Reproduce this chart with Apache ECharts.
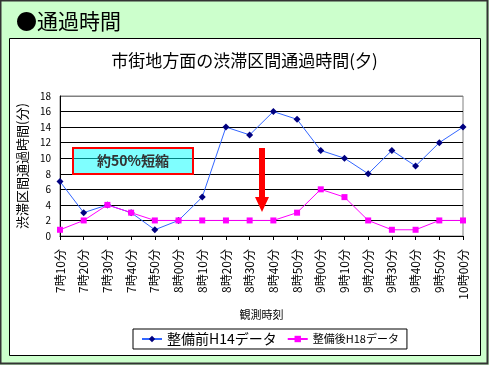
<!DOCTYPE html>
<html><head><meta charset="utf-8">
<script src="https://cdn.jsdelivr.net/npm/echarts@6/dist/echarts.min.js"></script>
<style>html,body{margin:0;padding:0;background:#CCFFCC;}#c{width:489px;height:365px;}</style>
</head><body><div id="c"></div>
<script>
const categories = ['7時10分','7時20分','7時30分','7時40分','7時50分','8時00分','8時10分','8時20分','8時30分','8時40分','8時50分','9時00分','9時10分','9時20分','9時30分','9時40分','9時50分','10時00分'];
const beforeH14 = [7,3,4,3,0.8,2,5,14,13,16,15,11,10,8,11,9,12,14];
const afterH18 = [0.8,2,4,3,2,2,2,2,2,2,3,6,5,2,0.8,0.8,2,2];
const yTicks = [0,2,4,6,8,10,12,14,16,18];
const nameBefore = '整備前H14データ';
const nameAfter = '整備後H18データ';
const FONT = '"Noto Sans CJK JP", sans-serif';

const chart = echarts.init(document.getElementById('c'), null, {renderer:'canvas'});
chart.setOption({
  backgroundColor: '#CCFFCC',
  animation: false,
  textStyle: {fontFamily: FONT},
  title: [
    {text: '●通過時間', left: 11, top: 6, textStyle: {fontSize: 21, fontWeight: 'normal', color: '#000', fontFamily: FONT}},
    {text: '市街地方面の渋滞区間通過時間(夕)', left: 'center', top: 47, textStyle: {fontSize: 17, fontWeight: 'normal', color: '#000', fontFamily: FONT}}
  ],
  graphic: [
    {type: 'rect', z: -20, shape: {x: 0.5, y: 0.5, width: 487, height: 363}, style: {fill: '#CCFFCC', stroke: '#333', lineWidth: 2}},
    {type: 'rect', z: -10, shape: {x: 9.5, y: 38.5, width: 471, height: 317}, style: {fill: '#fff', stroke: '#000', lineWidth: 1}},
    {type: 'rect', z: 100, shape: {x: 73, y: 148, width: 120, height: 26}, style: {fill: 'rgba(0,255,255,0.5)', stroke: '#FF0000', lineWidth: 2}},
    {type: 'text', z: 101, x: 133, y: 161, style: {text: '約50%短縮', fill: '#333', font: 'bold 14px ' + FONT, textAlign: 'center', textVerticalAlign: 'middle'}},
    {type: 'polygon', z: 100, shape: {points: [[259,148],[265,148],[265,197],[269,197],[262,212],[255,197],[259,197]]}, style: {fill: '#FF0000'}}
  ],
  legend: {
    left: 133, top: 329,
    padding: [3, 8, 3, 8],
    itemGap: 10,
    itemWidth: 20, itemHeight: 8,
    borderColor: '#000', borderWidth: 1,
    backgroundColor: '#fff',
    data: [nameBefore, nameAfter],
    formatter: function (n) { return n === nameBefore ? '{a|' + n + '}' : '{b|' + n + '}'; },
    textStyle: {
      color: '#000',
      rich: {
        a: {fontSize: 14, fontFamily: FONT, color: '#000'},
        b: {fontSize: 11, fontFamily: FONT, color: '#000'}
      }
    }
  },
  grid: {left: 60, right: 26, top: 96, bottom: 129, show: true, borderColor: '#808080', borderWidth: 1, backgroundColor: 'transparent'},
  xAxis: {
    type: 'category',
    data: categories,
    boundaryGap: false,
    name: '観測時刻',
    nameLocation: 'middle',
    nameGap: 73,
    nameTextStyle: {fontSize: 11, color: '#000', fontFamily: FONT},
    axisLine: {lineStyle: {color: '#000', width: 1}},
    axisTick: {show: true, length: 4, lineStyle: {color: '#000'}},
    axisLabel: {rotate: 90, fontSize: 12, color: '#000', margin: 13, interval: 0, fontFamily: FONT},
    splitLine: {show: false}
  },
  yAxis: {
    type: 'value',
    min: yTicks[0], max: yTicks[yTicks.length - 1], interval: 2,
    name: '渋滞区間通過時間(分)',
    nameLocation: 'middle',
    nameGap: 24,
    nameRotate: 90,
    nameTextStyle: {fontSize: 13, color: '#000', fontFamily: FONT},
    axisLine: {show: true, lineStyle: {color: '#000', width: 1}},
    axisTick: {show: false},
    axisLabel: {fontSize: 10, color: '#000', margin: 9, fontFamily: FONT},
    splitLine: {show: true, lineStyle: {color: ['#000','#000','#000','#000','#000','#000','#000','#000','#000','#808080'], width: 1}}
  },
  series: [
    {
      name: nameBefore, type: 'line', data: beforeH14,
      symbol: 'diamond', symbolSize: 7, showAllSymbol: true,
      lineStyle: {color: '#3366FF', width: 1},
      itemStyle: {color: '#000080'},
      z: 3
    },
    {
      name: nameAfter, type: 'line', data: afterH18,
      symbol: 'rect', symbolSize: 6, showAllSymbol: true,
      lineStyle: {color: '#FF00FF', width: 1},
      itemStyle: {color: '#FF00FF'},
      z: 4
    }
  ]
});
</script></body></html>
